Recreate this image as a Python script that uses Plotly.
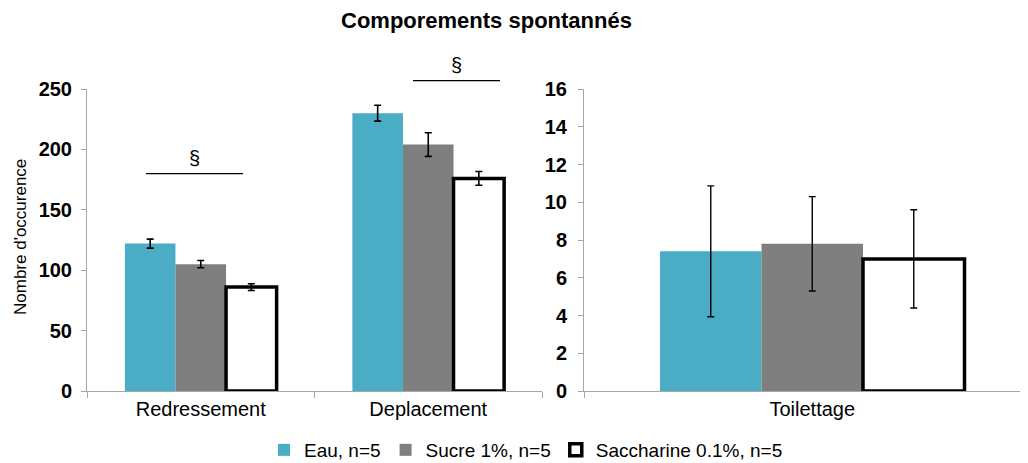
import plotly.graph_objects as go

# ---------------- data ----------------
categories_left = ["Redressement", "Deplacement"]
categories_right = ["Toilettage"]

series_names = ["Eau, n=5", "Sucre 1%, n=5", "Saccharine 0.1%, n=5"]

eau_left = [122, 230]
eau_left_err = [3.7, 6.6]
sucre_left = [105, 204]
sucre_left_err = [3.0, 9.8]
sacch_left = [86, 176]
sacch_left_err = [2.8, 5.7]

eau_right = [7.4]
eau_right_err = [3.47]
sucre_right = [7.8]
sucre_right_err = [2.5]
sacch_right = [7.0]
sacch_right_err = [2.6]

y_left_ticks = [0, 50, 100, 150, 200, 250]
y_right_ticks = [0, 2, 4, 6, 8, 10, 12, 14, 16]

# significance markers: (category index, start offset, end offset, level)
sig_index = [0, 1]
sig_start = [-0.241, -0.067]
sig_end = [0.186, 0.315]
sig_level = [180, 257]
sig_label = "§"

title_text = "Comporements spontannés"
ytitle_text = "Nombre d'occurence"

# ---------------- style ----------------
FONT = "Liberation Sans"
BLUE = "#4BACC6"
GREY = "#7F7F7F"
AXIS = "#A6A6A6"

# page body has an 8px margin; figure is sized to fit the visible window
OFF = 8
W, H = 1028 - OFF, 463 - OFF


def X(px):
    return (px - OFF) / W


def Y(py):
    return 1 - (py - OFF) / H


left_values = [eau_left, sucre_left, sacch_left]
left_errs = [eau_left_err, sucre_left_err, sacch_left_err]
right_values = [eau_right, sucre_right, sacch_right]
right_errs = [eau_right_err, sucre_right_err, sacch_right_err]
fills = [BLUE, GREY, "white"]
line_w = [0, 0, 3.5]

fig = go.Figure()
for i, name in enumerate(series_names):
    common = dict(
        name=name,
        legendgroup=name,
        marker=dict(color=fills[i], line=dict(color="black", width=line_w[i])),
    )
    fig.add_trace(go.Bar(
        x=categories_left, y=left_values[i],
        error_y=dict(type="data", array=left_errs[i], color="black", thickness=1.6, width=3.5),
        xaxis="x", yaxis="y", showlegend=True, **common))
    fig.add_trace(go.Bar(
        x=categories_right, y=right_values[i],
        error_y=dict(type="data", array=right_errs[i], color="black", thickness=1.4, width=3.5),
        xaxis="x2", yaxis="y2", showlegend=False, **common))

axis_common = dict(
    showline=True, linecolor=AXIS, linewidth=1,
    ticks="outside", tickcolor=AXIS, tickwidth=1,
    showgrid=False, zeroline=False, fixedrange=True,
)
xfont = dict(family=FONT, size=20, color="black")
yfont = dict(family=FONT, size=20, color="black", weight="bold")

n_left = len(categories_left)
ydom = [Y(391), Y(89)]
fig.update_layout(
    width=W, height=H,
    margin=dict(l=0, r=0, t=0, b=0, autoexpand=False),
    paper_bgcolor="white", plot_bgcolor="white",
    barmode="group", bargap=0.333, bargroupgap=0,
    xaxis=dict(domain=[X(87), X(542)], range=[-0.5, n_left - 0.5],
               tickson="boundaries", tickfont=xfont, anchor="y", ticklen=6, **axis_common),
    yaxis=dict(domain=ydom, range=[0, 250], tickvals=y_left_ticks,
               tickfont=yfont, anchor="x", ticklen=5, ticklabelstandoff=5, **axis_common),
    xaxis2=dict(domain=[X(584), 1.0], range=[-0.5, 0.4726],
                tickson="boundaries", tickfont=xfont, anchor="y2", ticklen=6, **axis_common),
    yaxis2=dict(domain=ydom, range=[0, 16], tickvals=y_right_ticks,
                tickfont=yfont, anchor="x2", ticklen=5, ticklabelstandoff=7, **axis_common),
    legend=dict(orientation="h", x=X(526), xanchor="center", y=Y(450), yanchor="middle",
                font=dict(family=FONT, size=19, color="black"), bgcolor="rgba(0,0,0,0)",
                itemclick=False, itemdoubleclick=False, tracegroupgap=0),
    showlegend=True,
)

# title and y-axis title
fig.add_annotation(text=title_text, xref="paper", yref="paper", x=X(486), y=Y(20),
                   showarrow=False, xanchor="center", yanchor="middle",
                   font=dict(family=FONT, size=22, color="black", weight="bold"))
fig.add_annotation(text=ytitle_text, xref="paper", yref="paper", x=X(20), y=Y(237),
                   showarrow=False, textangle=-90, xanchor="center", yanchor="middle",
                   font=dict(family=FONT, size=17, color="black"))

# significance lines and symbols (domain coordinates derived from category positions)
for idx, s0, s1, lvl in zip(sig_index, sig_start, sig_end, sig_level):
    x0 = (idx + s0 + 0.5) / n_left
    x1 = (idx + s1 + 0.5) / n_left
    yd = lvl / 250
    fig.add_shape(type="line", xref="x domain", yref="y domain", x0=x0, x1=x1, y0=yd, y1=yd,
                  line=dict(color="black", width=1.2))
    fig.add_annotation(text=sig_label, xref="x domain", yref="y domain", x=(x0 + x1) / 2, y=yd,
                       showarrow=False, xanchor="center", yanchor="bottom", yshift=3,
                       font=dict(family=FONT, size=20, color="black"))

fig.write_html("out.html")
